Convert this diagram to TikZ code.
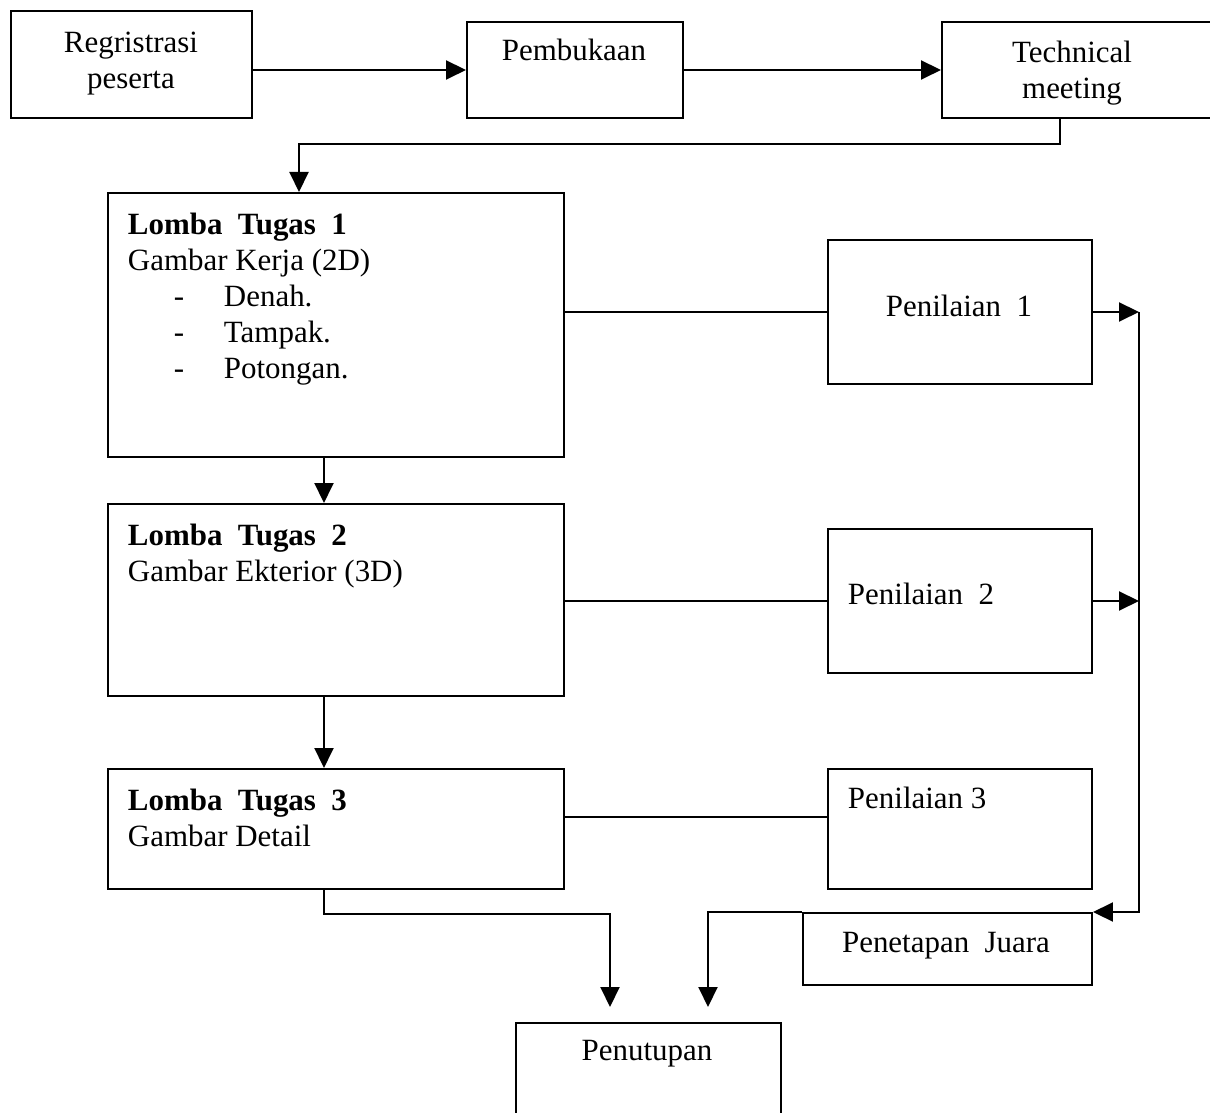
\documentclass[tikz,border=0pt]{standalone}
\usepackage{fontspec}
\setmainfont{Liberation Serif}
\usetikzlibrary{arrows.meta}
\newlength{\unitpx}
\setlength{\unitpx}{0.025cm}
\tikzset{
  stage/.style={draw, rectangle, anchor=north west, inner sep=0pt},
  caption/.style={inner sep=0pt}
}

\begin{document}
\begin{tikzpicture}[x=0.025cm, y=-0.025cm, line width=1.4pt,
  >={Triangle[length=5mm, width=4.75mm]}, font=\fontsize{22}{25.6}\selectfont]
\path[use as bounding box, clip] (0,0) rectangle (1210,1112);

% top row
\node[stage, minimum width=241\unitpx, minimum height=107\unitpx] (reg) at (10,10) {};
\node[stage, minimum width=216\unitpx, minimum height=96\unitpx] (buka) at (466,21) {};
\node[stage, minimum width=274\unitpx, minimum height=96\unitpx] (tech) at (941,21) {};
\node[caption, anchor=north, align=center] (regtxt) at (131,31) {Regristrasi\\peserta};
\node[caption, anchor=base] (bukatxt) at (574,60) {Pembukaan};
\node[caption, anchor=north, align=center] (techtxt) at (1072,40) {Technical\\meeting};

% lomba
\node[stage, minimum width=456\unitpx, minimum height=264\unitpx] (t1) at (107,192) {};
\node[stage, minimum width=456\unitpx, minimum height=192\unitpx] (t2) at (107,503) {};
\node[stage, minimum width=456\unitpx, minimum height=120\unitpx] (t3) at (107,768) {};
\node[caption, anchor=north west, align=left] (t1txt) at (127,212)
  {\textbf{Lomba~~Tugas~~1}\\Gambar Kerja (2D)\\
   \hspace*{46\unitpx}\makebox[50\unitpx][l]{-}Denah.\\
   \hspace*{46\unitpx}\makebox[50\unitpx][l]{-}Tampak.\\
   \hspace*{46\unitpx}\makebox[50\unitpx][l]{-}Potongan.};
\node[caption, anchor=north west, align=left] (t2txt) at (127,523)
  {\textbf{Lomba~~Tugas~~2}\\Gambar Ekterior (3D)};
\node[caption, anchor=north west, align=left] (t3txt) at (127,788)
  {\textbf{Lomba~~Tugas~~3}\\Gambar Detail};

% penilaian
\node[stage, minimum width=264\unitpx, minimum height=144\unitpx] (n1) at (827,239) {};
\node[stage, minimum width=264\unitpx, minimum height=144\unitpx] (n2) at (827,528) {};
\node[stage, minimum width=264\unitpx, minimum height=120\unitpx] (n3) at (827,768) {};
\node[stage, minimum width=289\unitpx, minimum height=72\unitpx] (pj) at (802,912) {};
\node[stage, minimum width=265\unitpx, minimum height=110\unitpx] (tutup) at (515,1022) {};
\node[caption, anchor=base] (n1txt) at (959,316) {Penilaian~~1};
\node[caption, anchor=base west] (n2txt) at (847,604) {Penilaian~~2};
\node[caption, anchor=base west] (n3txt) at (847,808) {Penilaian 3};
\node[caption, anchor=base] (pjtxt) at (946,952) {Penetapan~~Juara};
\node[caption, anchor=base] (tuttxt) at (647,1060) {Penutupan};

\coordinate (turn) at (1060,144);
\coordinate (t1in) at (299,192);
\coordinate (rail) at (1139,912);
\coordinate (tutinL) at (610,1007);
\coordinate (tutinR) at (708,1007);

% alur
\draw[->] (reg.east |- buka.west) -- (buka.west);
\draw[->] (buka.east) -- (tech.west);
\draw[->] (tech.south -| turn) -- (turn) -| (t1in |- t1.north);
\draw[->] ([xshift=-12\unitpx]t1.south) -- ([xshift=-12\unitpx]t2.north);
\draw[->] ([xshift=-12\unitpx]t2.south) -- ([xshift=-12\unitpx]t3.north);
\draw (t1.east |- n1.west) -- (n1.west);
\draw (t2.east |- n2.west) -- (n2.west);
\draw ([yshift=12\unitpx]t3.east) -- ([yshift=12\unitpx]n3.west);
\draw[->] (n1.east) -- (n1.east -| rail);
\draw[->] (n2.east) -- (n2.east -| rail);
\draw[->] (n1.east -| rail) -- (rail) -- (pj.north east);
\draw[->] ([xshift=-12\unitpx]t3.south) -- ++(0,24) -| (tutinL);
\draw[->] (pj.north west) -| (tutinR);
\end{tikzpicture}
\end{document}
